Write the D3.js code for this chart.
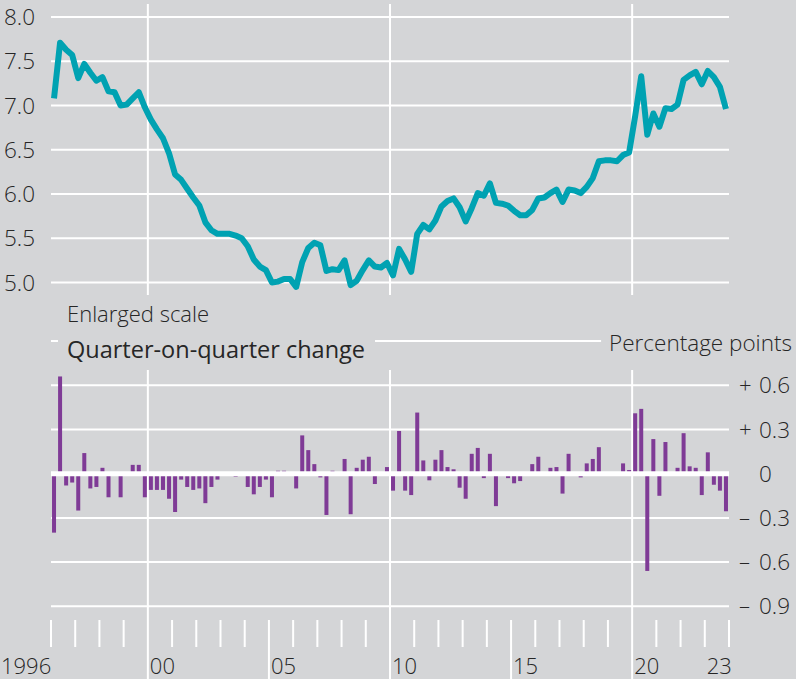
<!DOCTYPE html>
<html>
<head>
<meta charset="utf-8">
<script src="https://cdn.jsdelivr.net/npm/d3@7/dist/d3.min.js"></script>
<style>
  body { margin: 0; background: #d4d5d7; }
  svg { display: block; }
  text { font-family: "Open Sans", "Noto Sans", sans-serif; fill: #262626; font-weight: 350; }
</style>
</head>
<body>
<div id="main"></div>
<script>
// quarterly rate, 1996Q1 .. 2023Q4 (per cent)
var rate = [
  7.08, 7.71, 7.63, 7.57, 7.31, 7.47, 7.37, 7.28, 7.32, 7.16, 7.15, 7.00,
  7.01, 7.08, 7.15, 6.98, 6.84, 6.73, 6.63, 6.46, 6.22, 6.16, 6.06, 5.96,
  5.87, 5.68, 5.59, 5.55, 5.55, 5.55, 5.53, 5.50, 5.41, 5.26, 5.18, 5.14,
  5.00, 5.01, 5.04, 5.04, 4.95, 5.23, 5.39, 5.45, 5.42, 5.13, 5.15, 5.14,
  5.25, 4.97, 5.02, 5.14, 5.25, 5.18, 5.17, 5.22, 5.08, 5.38, 5.26, 5.12,
  5.55, 5.65, 5.60, 5.70, 5.86, 5.92, 5.95, 5.85, 5.69, 5.84, 6.01, 5.98,
  6.12, 5.90, 5.89, 5.87, 5.81, 5.76, 5.76, 5.82, 5.95, 5.96, 6.01, 6.05,
  5.91, 6.05, 6.04, 6.01, 6.08, 6.18, 6.37, 6.38, 6.38, 6.37, 6.44, 6.47,
  6.88, 7.33, 6.67, 6.91, 6.76, 6.97, 6.96, 7.01, 7.29, 7.34, 7.38, 7.24,
  7.39, 7.32, 7.21, 6.96
];

// quarter-on-quarter change (percentage points)
var change = [
  -0.40, 0.66, -0.08, -0.06, -0.25, 0.14, -0.10, -0.09, 0.04, -0.16, 0, -0.16,
  0, 0.06, 0.06, -0.16, -0.11, -0.11, -0.11, -0.17, -0.26, -0.04, -0.09, -0.11,
  -0.10, -0.20, -0.09, -0.04, 0, 0, -0.02, -0.01, -0.09, -0.14, -0.09, -0.04,
  -0.16, 0.02, 0.02, 0, -0.10, 0.26, 0.16, 0.065, -0.025, -0.28, 0.02, 0,
  0.10, -0.275, 0.04, 0.095, 0.115, -0.07, 0, 0.045, -0.115, 0.29, -0.115, -0.145,
  0.415, 0.09, -0.045, 0.095, 0.16, 0.045, 0.03, -0.095, -0.17, 0.135, 0.175, -0.03,
  0.135, -0.22, 0, -0.03, -0.065, -0.05, 0, 0.065, 0.115, 0, 0.04, 0.045,
  -0.135, 0.135, 0, -0.025, 0.07, 0.10, 0.18, 0, 0, -0.01, 0.07, 0.025,
  0.41, 0.44, -0.66, 0.235, -0.15, 0.215, 0, 0.04, 0.275, 0.05, 0.04, -0.145,
  0.145, -0.075, -0.115, -0.255
];

var startYear = 1996;
var rateTicks = [5.0, 5.5, 6.0, 6.5, 7.0, 7.5, 8.0];
var changeTicks = [0.9, 0.6, 0.3, 0, -0.3, -0.6, -0.9];
var changeSigns = ["", "+", "+", "", "\u2013", "\u2013", "\u2013"];
var changeLabels = ["", "0.6", "0.3", "0", "0.3", "0.6", "0.9"];
var gridYears = [2000, 2010, 2020];
var majorYears = [2005, 2015];
var labelYears = [1996, 2000, 2005, 2010, 2015, 2020, 2023];
var labelText = ["1996", "00", "05", "10", "15", "20", "23"];

var ctx = {
  w: 796,
  h: 679,
  left: 51,
  right: 729,
  bg: "#d4d5d7",
  teal: "#00a2b2",
  purple: "#7f3b96",
};

var svg = d3.select("#main").append("svg")
  .attr("width", ctx.w)
  .attr("height", ctx.h);

svg.append("rect").attr("width", ctx.w).attr("height", ctx.h).attr("fill", ctx.bg);

var x = d3.scaleLinear().domain([1996, 2024]).range([ctx.left, ctx.right]);
var yTop = d3.scaleLinear().domain([5, 8]).range([282.5, 17]);
var yBot = d3.scaleLinear().domain([-0.9, 0.9]).range([606.3, 341.1]);

var qx = function(i) { return x(startYear + (i + 0.5) / 4); };

// ---- top panel
var topG = svg.append("g");
topG.selectAll(".hgrid").data(rateTicks).enter().append("line")
  .attr("x1", ctx.left).attr("x2", ctx.right)
  .attr("y1", function(d) { return yTop(d); })
  .attr("y2", function(d) { return yTop(d); })
  .attr("stroke", "#fff").attr("stroke-width", 2);
topG.selectAll(".vgrid").data(gridYears).enter().append("line")
  .attr("x1", function(d) { return x(d); })
  .attr("x2", function(d) { return x(d); })
  .attr("y1", 4).attr("y2", 295)
  .attr("stroke", "#fff").attr("stroke-width", 2);
topG.selectAll(".ylab").data(rateTicks).enter().append("text")
  .attr("x", 4)
  .attr("y", function(d) { return yTop(d); })
  .attr("dy", "0.36em")
  .style("font-size", "22.5px")
  .text(function(d) { return d.toFixed(1); });

var line = d3.line()
  .x(function(d, i) { return qx(i); })
  .y(function(d) { return yTop(d); });
topG.append("path")
  .datum(rate)
  .attr("d", line)
  .attr("fill", "none")
  .attr("stroke", ctx.teal)
  .attr("stroke-width", 6)
  .attr("stroke-linejoin", "round");

svg.append("text").attr("x", 67).attr("y", 322)
  .style("font-size", "22px")
  .text("Enlarged scale");

// ---- bottom panel
var botG = svg.append("g");
botG.selectAll(".hgrid").data(changeTicks.filter(function(d) { return d !== 0; })).enter().append("line")
  .attr("x1", ctx.left).attr("x2", ctx.right)
  .attr("y1", function(d) { return yBot(d); })
  .attr("y2", function(d) { return yBot(d); })
  .attr("stroke", "#fff").attr("stroke-width", 2);
botG.selectAll(".vgrid").data(gridYears).enter().append("line")
  .attr("x1", function(d) { return x(d); })
  .attr("x2", function(d) { return x(d); })
  .attr("y1", 370).attr("y2", 679)
  .attr("stroke", "#fff").attr("stroke-width", 2);

botG.selectAll(".bar").data(change).enter().append("rect")
  .attr("x", function(d, i) { return qx(i) - 2; })
  .attr("width", 4)
  .attr("y", function(d) { return yBot(Math.max(0, d)); })
  .attr("height", function(d) { return Math.abs(yBot(d) - yBot(0)); })
  .attr("fill", ctx.purple);

botG.append("line")
  .attr("x1", ctx.left).attr("x2", ctx.right)
  .attr("y1", yBot(0)).attr("y2", yBot(0))
  .attr("stroke", "#fff").attr("stroke-width", 5);

// right labels
var rl = botG.selectAll(".rlab").data(changeTicks.slice(1)).enter().append("g")
  .attr("transform", function(d) { return "translate(0," + yBot(d) + ")"; });
rl.append("text")
  .attr("x", 739).attr("dy", "0.36em")
  .style("font-size", "22px")
  .text(function(d, i) { return changeSigns[i + 1]; });
rl.append("text")
  .attr("x", 759).attr("dy", "0.36em")
  .style("font-size", "22.5px")
  .text(function(d, i) { return changeLabels[i + 1]; });

// titles over the top gridline
var t1 = svg.append("text").attr("x", 67).attr("y", 358)
  .style("font-size", "23.5px").style("font-weight", 500)
  .text("Quarter-on-quarter change");
var b1 = t1.node().getBBox();
svg.insert("rect", function() { return t1.node(); })
  .attr("x", 58).attr("y", 330).attr("width", b1.x + b1.width + 10 - 58).attr("height", 24)
  .attr("fill", ctx.bg);

var t2 = svg.append("text").attr("x", 792).attr("y", 351)
  .attr("text-anchor", "end")
  .style("font-size", "22.5px")
  .text("Percentage points");
var b2 = t2.node().getBBox();
svg.insert("rect", function() { return t2.node(); })
  .attr("x", b2.x - 8).attr("y", 330).attr("width", ctx.w - b2.x + 8).attr("height", 24)
  .attr("fill", ctx.bg);

// ---- year axis
var yearTicks = d3.range(1996, 2025);
var axis = svg.append("g");
axis.selectAll(".tick").data(yearTicks.filter(function(d) { return gridYears.indexOf(d) < 0; })).enter().append("line")
  .attr("x1", function(d) { return x(d); })
  .attr("x2", function(d) { return x(d); })
  .attr("y1", 620)
  .attr("y2", function(d) { return majorYears.indexOf(d) >= 0 ? 679 : 647; })
  .attr("stroke", "#fff").attr("stroke-width", 2);
axis.selectAll(".xlab").data(labelYears).enter().append("text")
  .attr("x", function(d, i) { return i === 0 ? 1 : x(d) + 2; })
  .attr("y", 674)
  .style("font-size", "22px")
  .text(function(d, i) { return labelText[i]; });
</script>
</body>
</html>
